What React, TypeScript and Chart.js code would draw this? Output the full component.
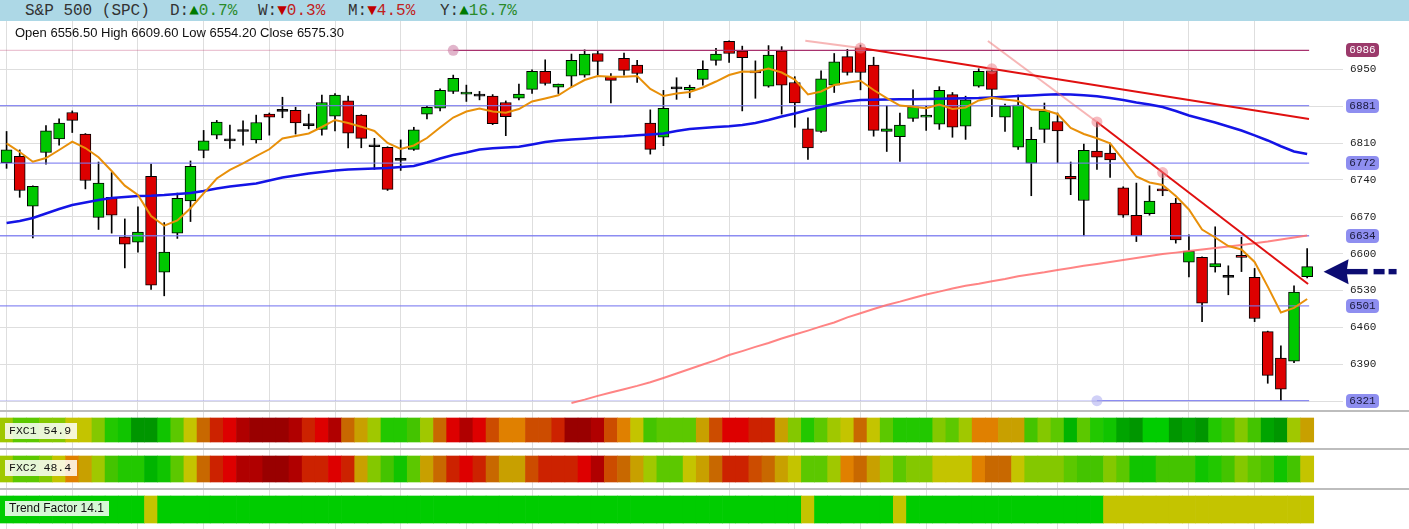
import React, { useEffect, useRef } from 'react';
import { Chart, registerables } from 'chart.js';

Chart.register(...registerables);

// ---------- price data (one candle per session) ----------
const opens = [
  6773, 6785, 6690, 6792, 6818, 6868, 6827, 6669, 6707, 6632,
  6622, 6747, 6565, 6639, 6700, 6796, 6825, 6814, 6832, 6816,
  6865, 6870, 6872, 6843, 6836, 6861, 6890, 6863, 6803, 6802,
  6777, 6798, 6865, 6876, 6908, 6903, 6899, 6899, 6887, 6895,
  6912, 6946, 6916, 6937, 6939, 6980, 6936, 6971, 6958, 6848,
  6821, 6913, 6911, 6931, 6967, 7003, 6985, 6947, 6918, 6985,
  6925, 6837, 6832, 6920, 6974, 6991, 6958, 6832, 6822, 6857,
  6859, 6846, 6902, 6842, 6918, 6947, 6859, 6802, 6772, 6836,
  6851, 6747, 6701, 6795, 6791, 6725, 6673, 6676, 6723, 6696,
  6584, 6593, 6575, 6555, 6596, 6555, 6452, 6402, 6396, 6556.5,
];
const highs = [
  6832, 6797, 6729, 6843, 6856, 6871, 6828, 6774, 6754, 6666,
  6689, 6770, 6659, 6715, 6776, 6834, 6853, 6844, 6852, 6863,
  6867, 6897, 6878, 6865, 6901, 6904, 6899, 6864, 6819, 6803,
  6816, 6840, 6880, 6913, 6939, 6920, 6908, 6902, 6890, 6922,
  6949, 6968, 6922, 6979, 6987, 6985, 6942, 6981, 6967, 6873,
  6910, 6934, 6920, 6966, 6990, 7004, 6994, 6966, 6995, 6993,
  6936, 6858, 6947, 6980, 6988, 6996, 6973, 6881, 6867, 6911,
  6880, 6917, 6906, 6899, 6951, 6952, 6884, 6901, 6840, 6886,
  6867, 6774, 6808, 6850, 6810, 6727, 6734, 6729, 6753, 6705,
  6636, 6594, 6651, 6577, 6631, 6572, 6453, 6425, 6539, 6609.6,
];
const lows = [
  6762, 6707, 6630, 6770, 6806, 6830, 6723, 6646, 6639, 6573,
  6603, 6532, 6520, 6629, 6661, 6782, 6818, 6800, 6806, 6810,
  6825, 6858, 6827, 6837, 6825, 6833, 6801, 6801, 6760, 6720,
  6758, 6796, 6856, 6871, 6904, 6889, 6892, 6845, 6824, 6892,
  6904, 6920, 6904, 6917, 6935, 6939, 6886, 6939, 6925, 6789,
  6805, 6893, 6896, 6920, 6958, 6963, 6871, 6895, 6916, 6865,
  6840, 6779, 6830, 6906, 6939, 6911, 6823, 6794, 6775, 6851,
  6834, 6836, 6821, 6817, 6916, 6860, 6832, 6798, 6710, 6811,
  6773, 6712, 6634, 6760, 6745, 6669, 6623, 6673, 6710, 6620,
  6556, 6471, 6565, 6522, 6566, 6471, 6354, 6321, 6393, 6554.2,
];
const closes = [
  6797, 6720, 6728, 6833, 6848, 6853, 6739, 6734, 6673, 6618,
  6641, 6540, 6603, 6705, 6766, 6814, 6850, 6814, 6832, 6849,
  6859, 6870, 6848, 6843, 6887, 6901, 6829, 6819, 6803, 6722,
  6777, 6835, 6878, 6910, 6933, 6907, 6899, 6847, 6860, 6903,
  6946, 6923, 6922, 6967, 6979, 6965, 6929, 6948, 6942, 6798,
  6876, 6913, 6916, 6950, 6979, 6980, 6972, 6943, 6977, 6920,
  6886, 6801, 6932, 6964, 6944, 6944, 6834, 6837, 6844, 6879,
  6863, 6910, 6840, 6892, 6946, 6912, 6880, 6882, 6817, 6871,
  6833, 6742, 6796, 6783, 6778, 6673, 6634, 6700, 6719, 6626,
  6605, 6506, 6581, 6555, 6593, 6477, 6369, 6343, 6527, 6575.3,
];

// ---------- moving averages ----------
const maFast = [
  6809.5, 6793.0, 6774.6, 6781.6, 6796.8, 6812.6, 6800.6, 6783.0, 6757.0, 6729.1,
  6711.4, 6671.6, 6653.1, 6663.0, 6686.2, 6714.6, 6742.7, 6758.9, 6771.6, 6785.4,
  6798.2, 6818.7, 6823.4, 6828.1, 6840.5, 6853.8, 6848.1, 6841.1, 6832.9, 6810.1,
  6798.7, 6805.4, 6819.6, 6839.5, 6858.5, 6869.9, 6875.6, 6869.9, 6867.6, 6874.6,
  6888.9, 6894.6, 6900.7, 6916.4, 6929.7, 6937.3, 6936.0, 6936.0, 6937.3, 6912.6,
  6899.3, 6904.1, 6906.9, 6915.5, 6926.8, 6939.2, 6945.8, 6945.4, 6951.5, 6943.9,
  6930.6, 6902.2, 6907.9, 6920.2, 6924.6, 6928.4, 6910.7, 6895.5, 6881.3, 6879.0,
  6876.2, 6883.2, 6874.6, 6877.5, 6890.8, 6896.1, 6892.7, 6889.8, 6873.7, 6872.8,
  6865.2, 6838.6, 6827.2, 6819.0, 6809.5, 6777.9, 6746.5, 6735.2, 6730.4, 6709.5,
  6683.9, 6645.9, 6630.7, 6614.6, 6608.0, 6584.3, 6537.4, 6488.4, 6497.0, 6514.0,
];
const maMid = [
  6658.3, 6662.1, 6667.8, 6676.3, 6684.8, 6692.4, 6697.2, 6701.9, 6705.7, 6707.6,
  6709.5, 6710.1, 6711.4, 6713.3, 6715.2, 6719.0, 6723.8, 6727.6, 6730.4, 6733.3,
  6738.9, 6744.6, 6748.4, 6752.2, 6755.1, 6757.9, 6759.8, 6760.8, 6761.7, 6762.7,
  6764.6, 6766.5, 6773.1, 6780.7, 6787.4, 6792.1, 6797.8, 6800.1, 6801.6, 6802.9,
  6807.3, 6812.0, 6814.9, 6816.8, 6818.3, 6820.0, 6821.5, 6822.8, 6824.7, 6826.3,
  6828.1, 6832.9, 6836.7, 6838.6, 6840.5, 6841.8, 6844.3, 6848.1, 6853.8, 6860.4,
  6866.1, 6872.8, 6878.4, 6884.1, 6888.9, 6891.7, 6892.1, 6892.7, 6893.1, 6893.3,
  6893.6, 6894.0, 6894.6, 6895.0, 6895.5, 6896.7, 6898.0, 6899.3, 6900.5, 6901.6,
  6902.7, 6902.2, 6900.7, 6898.8, 6895.5, 6891.7, 6887.0, 6883.2, 6878.4, 6870.9,
  6862.3, 6855.7, 6849.0, 6841.4, 6833.8, 6824.7, 6814.9, 6803.9, 6794.0, 6789.2,
];
const maSlowStart = 43;
const maSlow = [
  6316.7, 6323, 6330, 6336.6, 6342.6, 6349, 6356, 6364, 6372.6, 6381,
  6389.7, 6398, 6407.6, 6415, 6423, 6430.5, 6439, 6446.6, 6454, 6462,
  6469.4, 6479, 6487, 6495, 6502.6, 6509, 6516, 6522.6, 6528, 6534,
  6539, 6543, 6547.6, 6552, 6557, 6561, 6564.6, 6569, 6573, 6577,
  6580.5, 6584.4, 6588, 6591.8, 6595.6, 6599.4, 6602, 6605, 6608, 6611,
  6613.6, 6616.5, 6619.7, 6623, 6627, 6630.8, 6634.6,
];

// ---------- support / resistance levels ----------
const levelVals = [6986, 6881, 6772, 6634, 6501, 6321];
const levelFrom = [34, -0.5, -0.5, -0.5, -0.5, 83];
const levelTo = 99.15;

// ---------- trend lines (faint lead-in, solid part) ----------
const trendXs = [[60.8, 65, 99.14], [74.7, 83, 99.07]];
const trendVs = [[7004, 6990.4, 6855.7], [7003.7, 6850, 6542.5]];

// ---------- pivot markers ----------
const pivotIdx = [34, 65, 75, 83, 88, 83];
const pivotVal = [6986, 6990.4, 6951, 6850, 6754, 6321];

// ---------- y ticks / x grid ----------
const yTicks = [6320, 6390, 6460, 6530, 6600, 6670, 6740, 6810, 6880, 6950];
const weekIdx = [0, 5, 10, 15, 20, 25, 30, 35, 40, 45, 50, 55, 60, 65, 70, 75, 80, 85, 90, 95];

// ---------- indicator strips (palette level per session) ----------
const palette = [
  '#990000', '#b00000', '#dd0000', '#cc2200', '#cc4c00', '#c86800', '#e08000',
  '#c8a000', '#c4c400', '#a0c800', '#84c800', '#5cc800', '#44c400', '#22c800',
  '#10c400', '#00b400', '#00a400', '#009600', '#00cc00',
];
const fxc1 = [
  9, 11, 11, 10, 10, 8, 8, 10, 13, 14,
  17, 17, 14, 11, 8, 5, 3, 2, 1, 0,
  0, 0, 1, 3, 2, 1, 5, 7, 9, 13,
  13, 12, 9, 5, 2, 1, 2, 4, 6, 6,
  4, 4, 3, 0, 0, 1, 4, 6, 8, 12,
  11, 11, 11, 7, 4, 2, 2, 3, 3, 7,
  10, 13, 11, 9, 8, 5, 8, 11, 13, 13,
  13, 10, 11, 9, 6, 6, 7, 7, 12, 10,
  11, 15, 11, 13, 14, 16, 17, 18, 18, 17,
  16, 17, 13, 12, 10, 12, 16, 17, 9, 7,
];
const fxc2 = [
  9, 11, 11, 10, 8, 6, 7, 9, 12, 13,
  13, 15, 14, 11, 8, 5, 3, 2, 1, 1,
  0, 0, 1, 3, 3, 2, 3, 7, 10, 12,
  14, 11, 7, 5, 3, 2, 3, 5, 7, 7,
  4, 3, 3, 3, 2, 1, 4, 5, 7, 9,
  11, 11, 8, 7, 5, 3, 3, 4, 5, 7,
  8, 11, 11, 9, 6, 5, 7, 9, 11, 10,
  10, 8, 8, 8, 6, 5, 5, 8, 10, 10,
  10, 11, 12, 12, 10, 11, 14, 14, 12, 12,
  12, 14, 13, 12, 10, 11, 12, 14, 12, 8,
];
const trendFactor = [
  18, 18, 18, 18, 18, 18, 18, 18, 18, 18,
  18, 8, 18, 18, 18, 18, 18, 18, 18, 18,
  18, 18, 18, 18, 18, 18, 18, 18, 18, 18,
  18, 18, 18, 18, 18, 18, 18, 18, 18, 18,
  18, 18, 18, 18, 18, 18, 18, 18, 18, 18,
  18, 18, 18, 18, 18, 18, 18, 18, 18, 18,
  18, 8, 18, 18, 18, 18, 18, 18, 8, 18,
  18, 18, 18, 18, 18, 18, 18, 18, 18, 18,
  18, 18, 18, 18, 8, 8, 8, 8, 8, 8,
  8, 8, 8, 8, 8, 8, 8, 8, 8, 8,
];
const stripNames = ['FXC1 54.9', 'FXC2 48.4', 'Trend Factor 14.1'];

// ---------- header ----------
const headerTitle = 'S&P 500 (SPC)';
const changeKeys = ['D', 'W', 'M', 'Y'];
const changeVals = [0.7, -0.3, -4.5, 16.7];

// ---------- layout constants ----------
const W = 1409;
const HEADER_H = 21;
const CANVAS_H = 508;
const arrowAt = 100.25;

const N = opens.length;

function candleColor(i: number) {
  const o = opens[i];
  const c = closes[i];
  return c > o ? '#00c800' : c < o ? '#dd0000' : '#000000';
}

function noPad(sc: any) {
  sc.paddingTop = 0;
  sc.paddingBottom = 0;
  sc.paddingLeft = 0;
  sc.paddingRight = 0;
}

const overlayPlugin = {
  id: 'overlay',
  afterDraw(chart: any) {
    const { ctx, chartArea, scales } = chart;
    const ys = scales.y;
    const xs = scales.x;
    ctx.save();
    levelVals.forEach((lv, k) => {
      const py = Math.round(ys.getPixelForValue(lv));
      const bx = chartArea.right + 6;
      const bw = 33;
      const bh = 14;
      const r = 4;
      const by = py - bh / 2;
      ctx.beginPath();
      ctx.moveTo(bx + r, by);
      ctx.arcTo(bx + bw, by, bx + bw, by + bh, r);
      ctx.arcTo(bx + bw, by + bh, bx, by + bh, r);
      ctx.arcTo(bx, by + bh, bx, by, r);
      ctx.arcTo(bx, by, bx + bw, by, r);
      ctx.closePath();
      ctx.fillStyle = k === 0 ? '#9b3a6b' : '#8e8ef0';
      ctx.fill();
      ctx.fillStyle = k === 0 ? '#ffffff' : '#1a1a3c';
      ctx.font = '11px "Liberation Mono", monospace';
      ctx.textAlign = 'center';
      ctx.textBaseline = 'middle';
      ctx.fillText(String(lv), bx + bw / 2, py + 0.5);
    });
    const last = N - 1;
    const ay = ys.getPixelForValue((opens[last] + closes[last]) / 2);
    const ax = xs.getPixelForValue(arrowAt);
    ctx.fillStyle = '#0c0c72';
    ctx.beginPath();
    ctx.moveTo(ax, ay);
    ctx.lineTo(ax + 25, ay - 12.5);
    ctx.lineTo(ax + 23, ay);
    ctx.lineTo(ax + 25, ay + 12.5);
    ctx.closePath();
    ctx.fill();
    ctx.fillRect(ax + 22, ay - 2.7, 22, 5.4);
    ctx.fillRect(ax + 50, ay - 2.7, 11, 5.4);
    ctx.fillRect(ax + 65, ay - 2.7, 8, 5.4);
    ctx.restore();
  },
};

function buildConfig(): any {
  const datasets: any[] = [];

  // pivots
  datasets.push({
    type: 'line',
    data: pivotIdx.map((x, k) => ({ x, y: pivotVal[k] })),
    showLine: false,
    pointRadius: 5.5,
    pointBorderWidth: 0,
    pointBackgroundColor: pivotIdx.map((_, k) =>
      k === 0 ? 'rgba(200,120,160,0.55)' : k === pivotIdx.length - 1 ? 'rgba(170,170,240,0.55)' : 'rgba(240,120,130,0.5)'
    ),
    order: 0,
  });

  // trend lines
  trendXs.forEach((xsArr, t) => {
    datasets.push({
      type: 'line',
      data: [
        { x: xsArr[0], y: trendVs[t][0] },
        { x: xsArr[1], y: trendVs[t][1] },
      ],
      borderColor: 'rgba(240,110,110,0.5)',
      borderWidth: 2,
      pointRadius: 0,
      order: 1,
    });
    datasets.push({
      type: 'line',
      data: [
        { x: xsArr[1], y: trendVs[t][1] },
        { x: xsArr[2], y: trendVs[t][2] },
      ],
      borderColor: '#e01010',
      borderWidth: 2,
      pointRadius: 0,
      order: 1,
    });
  });

  // levels
  levelVals.forEach((lv, k) => {
    if (levelFrom[k] > -0.5) {
      datasets.push({
        type: 'line',
        data: [
          { x: -0.5, y: lv },
          { x: levelFrom[k], y: lv },
        ],
        borderColor: k === 0 ? 'rgba(190,60,110,0.3)' : 'rgba(140,140,240,0.35)',
        borderWidth: 1.2,
        pointRadius: 0,
        order: 3,
      });
    }
    datasets.push({
      type: 'line',
      data: [
        { x: levelFrom[k], y: lv },
        { x: levelTo, y: lv },
      ],
      borderColor: k === 0 ? '#a8326e' : 'rgba(120,120,240,0.85)',
      borderWidth: 1.3,
      pointRadius: 0,
      order: 3,
    });
  });

  // moving averages
  datasets.push({
    type: 'line',
    data: maFast.map((v, i) => ({ x: i, y: v })),
    borderColor: '#e8900a',
    borderWidth: 2,
    pointRadius: 0,
    order: 2,
  });
  datasets.push({
    type: 'line',
    data: maMid.map((v, i) => ({ x: i, y: v })),
    borderColor: '#1414e6',
    borderWidth: 2.5,
    pointRadius: 0,
    order: 2,
  });
  datasets.push({
    type: 'line',
    data: maSlow.map((v, k) => ({ x: maSlowStart + k, y: v })),
    borderColor: 'rgba(255,110,110,0.85)',
    borderWidth: 2,
    pointRadius: 0,
    order: 2,
  });

  // candle bodies
  datasets.push({
    type: 'bar',
    data: opens.map((o, i) => ({ x: i, y: [o, closes[i]] })),
    backgroundColor: opens.map((_, i) => candleColor(i)),
    borderColor: '#000000',
    borderWidth: 1,
    borderSkipped: false,
    barThickness: 11,
    minBarLength: 2,
    grouped: false,
    order: 5,
  });
  // wicks
  datasets.push({
    type: 'bar',
    data: lows.map((l, i) => ({ x: i, y: [l, highs[i]] })),
    backgroundColor: '#000000',
    borderWidth: 0,
    barThickness: 1,
    grouped: false,
    order: 6,
  });

  // strips
  const strips = [fxc1, fxc2, trendFactor];
  strips.forEach((lv, s) => {
    datasets.push({
      type: 'bar',
      yAxisID: 's' + (s + 1),
      data: lv.map((_, i) => ({ x: i, y: [0, 1] })),
      backgroundColor: lv.map((l) => palette[l]),
      borderWidth: 0,
      barPercentage: 1,
      categoryPercentage: 1,
      grouped: false,
      order: 10,
    });
  });

  const stripAxis = (weight: number, sw: number, min: number, max: number) => ({
    type: 'linear',
    position: 'right',
    stack: 'v',
    stackWeight: sw,
    weight,
    min,
    max,
    grid: { display: false, drawTicks: false },
    border: { display: false },
    ticks: { display: false },
    afterFit: (sc: any) => {
      sc.width = 0;
      noPad(sc);
    },
  });

  return {
    type: 'bar',
    data: { datasets },
    options: {
      animation: false,
      responsive: false,
      devicePixelRatio: 1,
      events: [],
      layout: { autoPadding: false, padding: 0 },
      plugins: { legend: { display: false }, tooltip: { enabled: false } },
      scales: {
        x: {
          type: 'linear',
          min: -0.5,
          max: 101.5,
          offset: false,
          grid: { color: '#dedede', lineWidth: 1, drawTicks: false, offset: false },
          border: { display: false },
          ticks: { display: false },
          afterBuildTicks: (sc: any) => {
            sc.ticks = weekIdx.map((v) => ({ value: v }));
          },
          afterFit: (sc: any) => {
            sc.height = 0;
            noPad(sc);
          },
        },
        y: {
          type: 'linear',
          position: 'right',
          stack: 'v',
          stackWeight: 389,
          weight: 0,
          min: 6303.25,
          max: 7041.7,
          grid: { color: '#dedede', lineWidth: 1, tickLength: 3, drawTicks: true },
          border: { display: false },
          ticks: {
            padding: 7,
            color: '#222222',
            font: { family: '"Liberation Mono", monospace', size: 11 },
            callback: (v: any) => (levelVals.some((l) => Math.abs(l - v) < 5) ? '' : String(v)),
          },
          afterBuildTicks: (sc: any) => {
            sc.ticks = yTicks.map((v) => ({ value: v }));
          },
          afterFit: (sc: any) => {
            sc.width = 69;
            noPad(sc);
          },
        },
        s1: stripAxis(1, 38, -0.25, 1.3333),
        s2: stripAxis(2, 40, -0.2308, 1.3077),
        s3: stripAxis(3, 41, -0.2222, 1.2963),
      },
    },
    plugins: [overlayPlugin],
  };
}

const headerLeft = [170, 258, 348, 440];
const stripBoxTop = [423, 460, 500.5];
const stripBoxW = [72.5, 72.5, 104.5];
const separatorsTop = [410, 448, 488];

export default function App() {
  const ref = useRef<HTMLCanvasElement>(null);
  useEffect(() => {
    if (!ref.current) return;
    const chart = new Chart(ref.current, buildConfig());
    return () => chart.destroy();
  }, []);

  const last = N - 1;
  const ohlc = `Open ${opens[last].toFixed(2)} High ${highs[last].toFixed(2)} Low ${lows[last].toFixed(2)} Close ${closes[last].toFixed(2)}`;

  return (
    <div style={{ position: 'absolute', left: 0, top: 0, width: W, height: 529, overflow: 'hidden', background: '#ffffff' }}>
      <div
        style={{
          position: 'absolute',
          left: 0,
          top: 0,
          width: W,
          height: HEADER_H,
          background: '#add8e6',
          fontFamily: '"Liberation Mono", monospace',
          fontSize: 16,
          lineHeight: HEADER_H + 'px',
          color: '#333333',
          whiteSpace: 'pre',
        }}
      >
        <span style={{ position: 'absolute', left: 25, top: 1 }}>{headerTitle}</span>
        {changeKeys.map((k, i) => {
          const v = changeVals[i];
          const up = v >= 0;
          return (
            <span key={k} style={{ position: 'absolute', left: headerLeft[i], top: 1 }}>
              {k}:
              <span style={{ color: up ? '#007a00' : '#c00000' }}>{up ? '▲' : '▼'}</span>
              <span style={{ color: up ? '#2a8a2a' : '#c02020' }}>{Math.abs(v).toFixed(1)}%</span>
            </span>
          );
        })}
      </div>
      <canvas
        ref={ref}
        width={W}
        height={CANVAS_H}
        style={{ position: 'absolute', left: 0, top: HEADER_H, width: W, height: CANVAS_H }}
      />
      <div
        style={{
          position: 'absolute',
          left: 15,
          top: 25,
          fontFamily: '"Liberation Sans", Arial, sans-serif',
          fontSize: 13,
          lineHeight: '15px',
          color: '#111111',
          whiteSpace: 'pre',
        }}
      >
        {ohlc}
      </div>
      {separatorsTop.map((t) => (
        <div key={t} style={{ position: 'absolute', left: 0, top: t, width: W, height: 2, background: '#bdbdbd' }} />
      ))}
      {stripNames.map((name, s) => (
        <div
          key={name}
          style={{
            position: 'absolute',
            left: 4.5,
            top: stripBoxTop[s],
            width: stripBoxW[s],
            height: 15.5,
            background: 'rgba(255,255,255,0.84)',
            display: 'flex',
            alignItems: 'center',
            paddingLeft: 4.5,
            boxSizing: 'border-box',
            fontFamily: s < 2 ? '"Liberation Mono", monospace' : '"Liberation Sans", Arial, sans-serif',
            fontSize: s < 2 ? 11.5 : 12,
            color: '#111111',
            whiteSpace: 'pre',
          }}
        >
          {name}
        </div>
      ))}
    </div>
  );
}
